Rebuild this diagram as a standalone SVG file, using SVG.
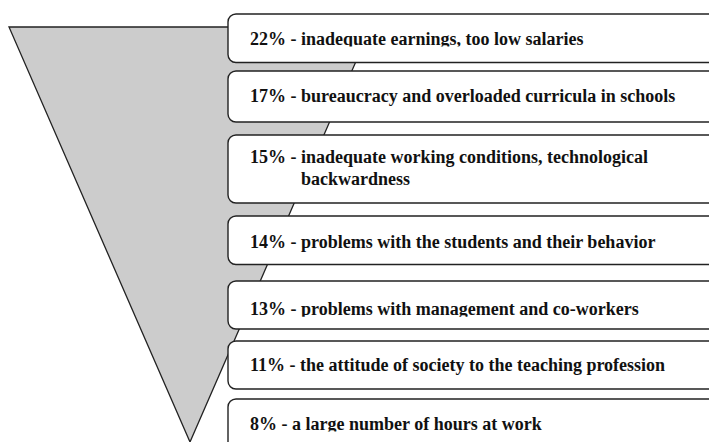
<svg xmlns="http://www.w3.org/2000/svg" width="709" height="442" viewBox="0 0 709 442">
  <style>
    .funnel { fill: #cccccc; stroke: #222222; stroke-width: 1.3; }
    .box { fill: #ffffff; stroke: #222222; stroke-width: 1.4; }
    .lbl { font-family: "Liberation Serif", "Times New Roman", serif; font-weight: bold; font-size: 18px; fill: #111111; }
  </style>
  <defs>
    <!-- some labels are cut just below their baseline -->
    <clipPath id="cut-22"><rect x="228" y="14" width="500" height="32.5"/></clipPath>
    <clipPath id="cut-13"><rect x="228" y="281" width="500" height="35.7"/></clipPath>
    <clipPath id="cut-8"><rect x="228" y="399" width="500" height="32.5"/></clipPath>
  </defs>
  <rect width="709" height="442" fill="#ffffff"/>
  <!-- inverted triangle behind the list -->
  <g id="funnel">
    <polygon class="funnel" points="9,27 371,27 190,442"/>
  </g>
  <g id="connectors"></g>
  <g id="item-22">
    <rect class="box" x="228" y="14" width="500" height="48.5" rx="8"/>
    <text class="lbl" x="250" y="45.3" clip-path="url(#cut-22)">22% - inadequate earnings, too low salaries</text>
  </g>
  <g id="item-17">
    <rect class="box" x="228" y="71" width="500" height="51" rx="8"/>
    <text class="lbl" x="250" y="102">17% - bureaucracy and overloaded curricula in schools</text>
  </g>
  <g id="item-15">
    <rect class="box" x="228" y="135" width="500" height="68" rx="8"/>
    <text class="lbl" x="250" y="163.3">15% - inadequate working conditions, technological</text>
    <text class="lbl" x="301" y="185.3">backwardness</text>
  </g>
  <g id="item-14">
    <rect class="box" x="228" y="216" width="500" height="48.5" rx="8"/>
    <text class="lbl" x="250" y="248.3">14% - problems with the students and their behavior</text>
  </g>
  <g id="item-13">
    <rect class="box" x="228" y="281" width="500" height="48" rx="8"/>
    <text class="lbl" x="250" y="315" clip-path="url(#cut-13)">13% - problems with management and co-workers</text>
  </g>
  <g id="item-11">
    <rect class="box" x="228" y="341" width="500" height="48" rx="8"/>
    <text class="lbl" x="250" y="370.7">11% - the attitude of society to the teaching profession</text>
  </g>
  <g id="item-8">
    <rect class="box" x="228" y="399" width="500" height="60" rx="8"/>
    <text class="lbl" x="250" y="430" clip-path="url(#cut-8)">8% - a large number of hours at work</text>
  </g>
</svg>
